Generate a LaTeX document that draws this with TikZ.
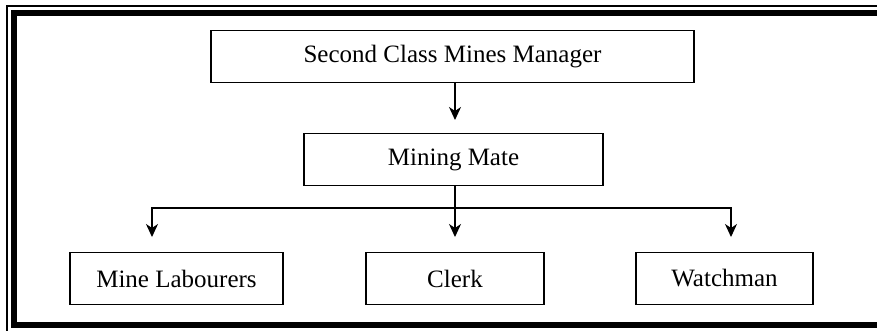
\documentclass[tikz,border=0pt]{standalone}
\usepackage{fontspec}
\setmainfont{Liberation Serif}
\usetikzlibrary{arrows.meta}
\begin{document}
\begin{tikzpicture}[x=1pt,y=1pt,
  box/.style={draw, line width=1.1pt, inner sep=0pt, minimum height=52pt,
    font=\fontsize{25}{30}\selectfont},
  link/.style={line width=1.1pt},
  arr/.style={link, -{Stealth[length=13pt,width=12pt,inset=4pt]}}]
\useasboundingbox (0,0) rectangle (877,-330);
\clip (0,0) rectangle (877,-330);
% page frame: thin outer rule and heavy inner rule
\draw[line width=1.3pt] (7,-6) rectangle (905,-334);
\draw[line width=6pt] (14,-13) rectangle (900,-325);

% organisation boxes
\node[box, minimum width=483pt] (mgr)   at (452.5,-56.5)  {Second Class Mines Manager};
\node[box, minimum width=299pt] (mate)  at (453.5,-159.5) {Mining Mate};
\node[box, minimum width=213pt] (lab)   at (176.5,-278.5) {Mine Labourers};
\node[box, minimum width=178pt] (clerk) at (455,-278.5)   {Clerk};
\node[box, minimum width=177pt] (watch) at (724.5,-278.5) {Watchman};

% arrow ends and distribution bar
\coordinate (mateIn)  at (455,-120);
\coordinate (bar)     at (455,-208);
\coordinate (labIn)   at (152,-237);
\coordinate (clerkIn) at (455,-237);
\coordinate (watchIn) at (731,-237);

\draw[arr] (mgr.south -| mateIn) -- (mateIn);
\draw[arr] (mate.south -| clerkIn) -- (clerkIn);
\draw[arr] (bar) -| (labIn);
\draw[arr] (bar) -| (watchIn);
\end{tikzpicture}
\end{document}
